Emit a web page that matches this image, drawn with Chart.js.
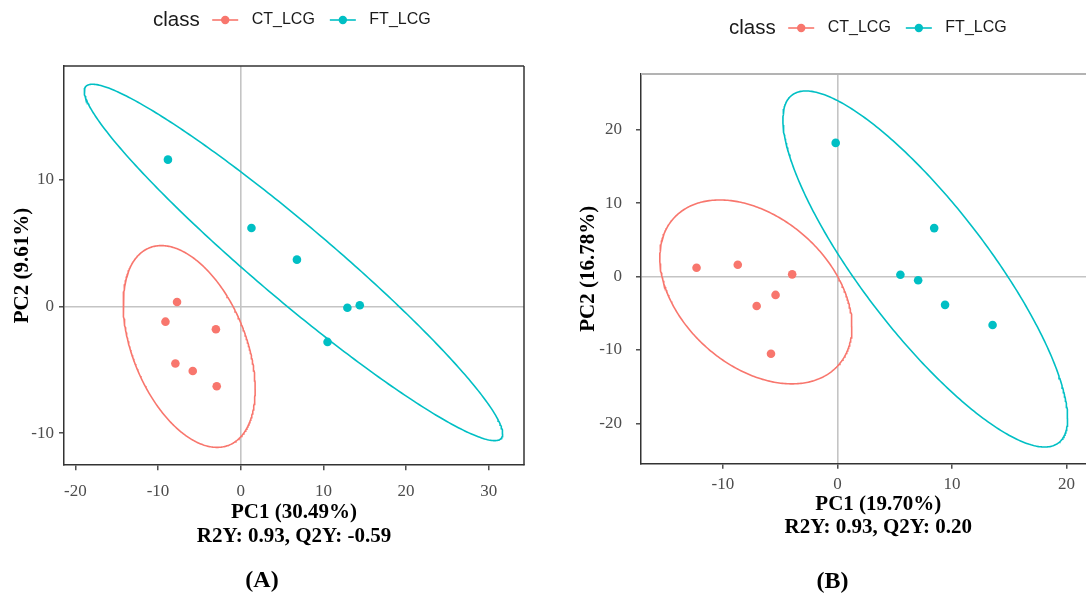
<!DOCTYPE html>
<html>
<head>
<meta charset="utf-8">
<title>PLS-DA score plots</title>
<script src="https://cdn.jsdelivr.net/npm/chart.js@4/dist/chart.umd.min.js"></script>
<style>
  html, body { margin: 0; padding: 0; background: #fff; overflow: hidden; }
  body { width: 1086px; height: 598px; position: relative; }
  canvas { position: absolute; top: 0; }
  #chartA { left: 0; }
  #chartB { left: 545px; }
</style>
</head>
<body>
<canvas id="chartA" width="532" height="598"></canvas>
<canvas id="chartB" width="575" height="598"></canvas>
<script>
// groups
const groups = ["CT_LCG", "FT_LCG"];
const groupColors = ["#F8766D", "#00BFC4"];

// panel A scores
const ctA_x = [-7.7, -9.1, -3.0, -7.9, -5.8, -2.9];
const ctA_y = [0.35, -1.2, -1.8, -4.5, -5.1, -6.3];
const ftA_x = [-8.8, 1.3, 6.8, 12.9, 14.4, 10.5];
const ftA_y = [11.6, 6.2, 3.7, -0.1, 0.1, -2.8];

// panel B scores
const ctB_x = [-12.3, -8.7, -3.95, -5.4, -7.05, -5.8];
const ctB_y = [1.2, 1.6, 0.3, -2.5, -4.0, -10.5];
const ftB_x = [-0.15, 8.45, 5.5, 7.05, 9.4, 13.55];
const ftB_y = [18.2, 6.6, 0.25, -0.5, -3.85, -6.6];

// confidence ellipses: [centre x, centre y, half width, half height, phase (deg)]
const ellA_ct = [-6.23, -3.16, 7.98, 7.97, 115];
const ellA_ft = [6.38, 3.48, 25.3, 14.08, 164];
const ellB_ct = [-7.12, -2.09, 8.39, 12.52, 112];
const ellB_ft = [7.67, 1.03, 12.43, 24.24, 147];

// axes
const ticksA_x = [-20, -10, 0, 10, 20, 30];
const ticksA_y = [-10, 0, 10];
const ticksB_x = [-10, 0, 10, 20];
const ticksB_y = [-20, -10, 0, 10, 20];
const rangeA_x = [-21.37, 34.26];
const rangeA_y = [-12.54, 19.0];
const rangeB_x = [-17.15, 24.3];
const rangeB_y = [-25.48, 27.58];

const labelsA = { x: ["PC1 (30.49%)", "R2Y: 0.93, Q2Y: -0.59"], y: "PC2 (9.61%)", panel: "(A)" };
const labelsB = { x: ["PC1 (19.70%)", "R2Y: 0.93, Q2Y: 0.20"], y: "PC2 (16.78%)", panel: "(B)" };

const SERIF = '"Liberation Serif", "Times New Roman", serif';
const SANS = '"Liberation Sans", Arial, sans-serif';

function zipPoints(xs, ys) {
    return xs.map((x, i) => ({ x: x, y: ys[i] }));
}

function ellipsePath(e, n = 360) {
    const [cx, cy, rx, ry, phase] = e;
    const p = phase * Math.PI / 180;
    const pts = [];
    for (let i = 0; i <= n; i++) {
        const t = 2 * Math.PI * i / n;
        pts.push({ x: cx + rx * Math.cos(t), y: cy + ry * Math.cos(t - p) });
    }
    return pts;
}

// ggplot style legend: "class  -o- CT_LCG  -o- FT_LCG"
const classLegend = {
    id: "classLegend",
    afterDraw(chart, args, opts) {
        const ctx = chart.ctx;
        ctx.save();
        ctx.textBaseline = "middle";
        ctx.textAlign = "left";
        let x = opts.x;
        const y = opts.y;
        ctx.font = "20.5px " + SANS;
        ctx.fillStyle = "#1a1a1a";
        ctx.fillText("class", x, y);
        x += ctx.measureText("class").width + 12.5;
        groups.forEach((g, i) => {
            ctx.strokeStyle = groupColors[i];
            ctx.lineWidth = 1.6;
            ctx.beginPath();
            ctx.moveTo(x, y);
            ctx.lineTo(x + 26, y);
            ctx.stroke();
            ctx.fillStyle = groupColors[i];
            ctx.beginPath();
            ctx.arc(x + 13, y, 4.2, 0, Math.PI * 2);
            ctx.fill();
            x += 26 + 13.5;
            ctx.font = "16px " + SANS;
            ctx.fillStyle = "#1a1a1a";
            ctx.fillText(g, x, y);
            x += ctx.measureText(g).width + 15;
        });
        ctx.restore();
    }
};

// top / right sides of the panel box
const panelFrame = {
    id: "panelFrame",
    afterDatasetsDraw(chart, args, opts) {
        const { left, right, top, bottom } = chart.chartArea;
        const ctx = chart.ctx;
        ctx.save();
        ctx.lineWidth = opts.topWidth;
        ctx.strokeStyle = opts.top;
        ctx.beginPath();
        ctx.moveTo(left, top);
        ctx.lineTo(right, top);
        ctx.stroke();
        ctx.lineWidth = 1.5;
        ctx.strokeStyle = opts.right;
        ctx.beginPath();
        ctx.moveTo(right, top);
        ctx.lineTo(right, bottom);
        ctx.stroke();
        ctx.restore();
    }
};

function makeChart(id, p) {
    const zeroGrid = c => (c.tick && c.tick.value === 0) ? "#c4c4c4" : "rgba(0,0,0,0)";
    const tickFont = { family: SERIF, size: 17 };

    return new Chart(document.getElementById(id), {
        type: "scatter",
        data: {
            datasets: [
                { label: groups[0], data: zipPoints(p.ctX, p.ctY), backgroundColor: groupColors[0],
                  pointRadius: 4.3, pointBorderWidth: 0 },
                { label: groups[1], data: zipPoints(p.ftX, p.ftY), backgroundColor: groupColors[1],
                  pointRadius: 4.3, pointBorderWidth: 0 },
                { label: groups[0] + " ellipse", data: ellipsePath(p.ellCt), showLine: true,
                  borderColor: groupColors[0], borderWidth: 1.6, pointRadius: 0, tension: 0 },
                { label: groups[1] + " ellipse", data: ellipsePath(p.ellFt), showLine: true,
                  borderColor: groupColors[1], borderWidth: 1.6, pointRadius: 0, tension: 0 }
            ]
        },
        options: {
            responsive: false,
            animation: false,
            layout: { padding: { top: p.padTop, right: p.padRight, left: 0, bottom: 0 } },
            plugins: {
                legend: { display: false },
                tooltip: { enabled: false },
                title: {
                    display: true, position: "bottom", text: p.labels.panel, color: "#000",
                    font: { family: SERIF, size: 24, weight: "bold", lineHeight: 1.2 },
                    padding: { top: p.panelPadTop, bottom: p.panelPadBottom }
                },
                classLegend: { x: p.legendX, y: p.legendY },
                panelFrame: { top: p.frameTop, topWidth: p.frameTopW, right: "#333" }
            },
            scales: {
                x: {
                    type: "linear", min: p.rangeX[0], max: p.rangeX[1],
                    afterBuildTicks: axis => { axis.ticks = p.ticksX.map(v => ({ value: v })); },
                    afterFit: s => { s.height = p.xAxisH; },
                    grid: { color: zeroGrid, lineWidth: 1.6, tickColor: "#333", tickWidth: 1.3, tickLength: 5 },
                    border: { display: true, color: "#333", width: 1.5 },
                    ticks: { color: "#4d4d4d", font: tickFont, padding: p.xTickPad, maxRotation: 0,
                             callback: v => String(v) },
                    title: { display: true, text: p.labels.x, color: "#000", padding: 0,
                             font: { family: SERIF, size: 21, weight: "bold", lineHeight: p.xTitleLH } }
                },
                y: {
                    type: "linear", min: p.rangeY[0], max: p.rangeY[1],
                    afterBuildTicks: axis => { axis.ticks = p.ticksY.map(v => ({ value: v })); },
                    afterFit: s => { s.width = p.yAxisW; },
                    grid: { color: zeroGrid, lineWidth: 1.6, tickColor: "#333", tickWidth: 1.3, tickLength: 5 },
                    border: { display: true, color: "#333", width: 1.5 },
                    ticks: { color: "#4d4d4d", font: tickFont, padding: p.yTickPad,
                             callback: v => String(v) },
                    title: { display: true, text: p.labels.y, color: "#000", padding: { top: p.yTitlePad },
                             font: { family: SERIF, size: 21, weight: "bold", lineHeight: 1.15 } }
                }
            }
        },
        plugins: [classLegend, panelFrame]
    });
}

makeChart("chartA", {
    ctX: ctA_x, ctY: ctA_y, ftX: ftA_x, ftY: ftA_y, ellCt: ellA_ct, ellFt: ellA_ft,
    ticksX: ticksA_x, ticksY: ticksA_y, rangeX: rangeA_x, rangeY: rangeA_y, labels: labelsA,
    padTop: 66, padRight: 8, yAxisW: 64, xAxisH: 84, xTickPad: 11, yTickPad: 5, yTitlePad: 11,
    xTitleLH: 1.167, panelPadTop: 17, panelPadBottom: 3, legendX: 153, legendY: 20,
    frameTop: "#333", frameTopW: 1.5
});

makeChart("chartB", {
    ctX: ctB_x, ctY: ctB_y, ftX: ftB_x, ftY: ftB_y, ellCt: ellB_ct, ellFt: ellB_ft,
    ticksX: ticksB_x, ticksY: ticksB_y, rangeX: rangeB_x, rangeY: rangeB_y, labels: labelsB,
    padTop: 74, padRight: 0, yAxisW: 96, xAxisH: 75.5, xTickPad: 6, yTickPad: 14, yTitlePad: 32,
    xTitleLH: 1.095, panelPadTop: 28, panelPadBottom: 2, legendX: 184, legendY: 28,
    frameTop: "#b3b3b3", frameTopW: 2
});
</script>
</body>
</html>
